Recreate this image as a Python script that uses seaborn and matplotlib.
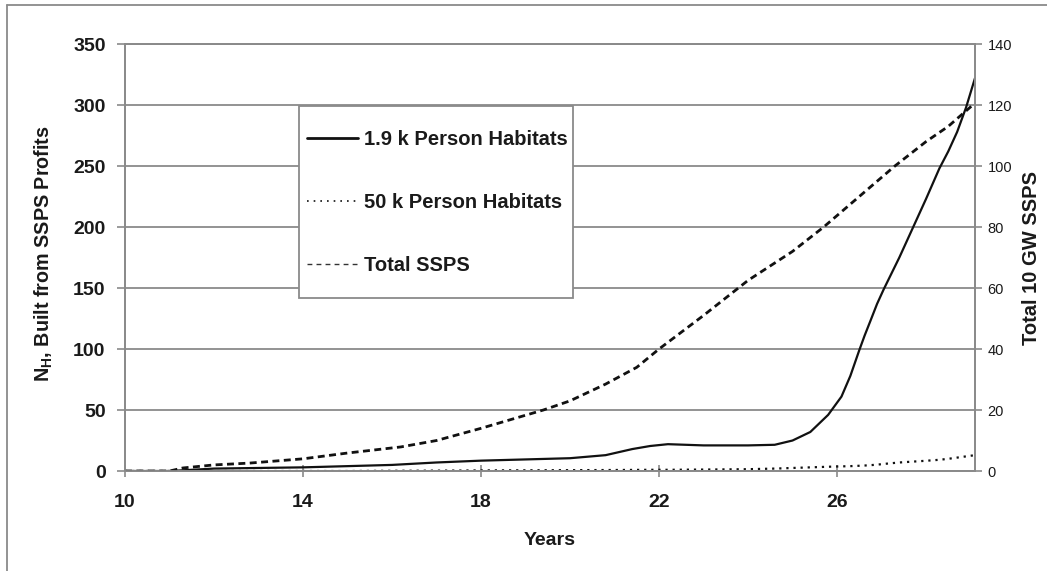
import matplotlib
matplotlib.use('Agg')
from matplotlib import pyplot as plt
from matplotlib.lines import Line2D
from matplotlib.patches import Rectangle
import pandas as pd
import seaborn as sns

# Values
hab_years = [10, 11, 11.5, 12, 13, 14, 15, 16, 17, 18, 19, 20, 20.8, 21.4, 21.8, 22.2,
             22.6, 23, 24, 24.6, 25, 25.4, 25.8, 26.1, 26.3, 26.5, 26.62, 26.75, 26.9,
             27.05, 27.4, 27.7, 28, 28.3, 28.5, 28.7, 28.9, 29.1]
hab_small = [0, 0, 1, 2, 2.5, 3, 4, 5, 7, 8.5, 9.5, 10.5, 13, 18, 20.5, 22,
             21.5, 21, 21, 21.5, 25, 32, 46, 61, 78, 99, 111, 123, 137,
             149, 175, 199, 223, 248, 262, 278, 298, 322]
hab_large = [0, 0, 0, 0, 0, 0, 0, 0.2, 0.3, 0.5, 0.6, 0.7, 0.8, 0.9, 1, 1,
             1.1, 1.2, 1.5, 2, 2.5, 3, 3.5, 3.8, 4, 4.3, 4.5, 4.8, 5.2,
             5.8, 7, 7.7, 8.4, 9.2, 10, 11, 12, 13]
ssps_years = [10, 11, 11.3, 12, 12.8, 14, 15, 16.2, 17, 18, 19.4, 20, 20.8, 21.5, 22,
              23, 24, 25, 25.7, 26.5, 27.3, 28, 28.5, 29.05]
ssps_total = [0, 0, 1, 2, 2.6, 4, 5.9, 7.9, 10, 14, 20, 23, 28.5, 34, 40,
              51, 62.5, 72, 80, 90, 100, 108, 113, 120]

series_labels = ['1.9 k Person Habitats', '50 k Person Habitats', 'Total SSPS']
x_ticks = [10, 14, 18, 22, 26]
left_ticks = [0, 50, 100, 150, 200, 250, 300, 350]
right_ticks = [0, 20, 40, 60, 80, 100, 120, 140]

hab_df = pd.DataFrame({'year': hab_years, 'small': hab_small, 'large': hab_large})
ssps_df = pd.DataFrame({'year': ssps_years, 'total': ssps_total})

sns.set_style('white')
plt.rcParams['font.family'] = ['Liberation Sans', 'DejaVu Sans']
plt.rcParams['mathtext.fontset'] = 'custom'
plt.rcParams['mathtext.rm'] = 'Liberation Sans'
plt.rcParams['mathtext.bf'] = 'Liberation Sans:bold'

text_col = '#1a1a1a'
grid_col = '#8a8a8a'
line_col = '#111111'

fig, ax = plt.subplots(figsize=(10.47, 5.71), dpi=100)
fig.subplots_adjust(left=0.1194, right=0.9312, top=0.9229, bottom=0.1751)
ax2 = ax.twinx()

sns.lineplot(data=hab_df, x='year', y='small', ax=ax, color=line_col, lw=1.6)
sns.lineplot(data=hab_df, x='year', y='large', ax=ax, color=line_col, lw=1.6,
             linestyle=(0, (1, 2.2)))
sns.lineplot(data=ssps_df, x='year', y='total', ax=ax2, color=line_col, lw=2.0,
             linestyle=(0, (2.5, 1.6)))

ax.set_xlim(10, 29.1)
ax.set_ylim(0, 350)
ax2.set_ylim(0, 140)
ax.set_xticks(x_ticks)
ax.set_yticks(left_ticks)
ax2.set_yticks(right_ticks)

ax.set_axisbelow(True)
ax.yaxis.grid(True, color=grid_col, lw=1.3)
ax.xaxis.grid(False)
ax2.grid(False)

for a in (ax, ax2):
    for s in a.spines.values():
        s.set_color(grid_col)
        s.set_linewidth(1.3)

ax.tick_params(axis='y', which='major', direction='out', length=6, width=1.2,
               color=grid_col, left=True, pad=8, labelsize=14, labelcolor=text_col)
ax.tick_params(axis='x', which='major', direction='inout', length=9, width=1.2,
               color=grid_col, bottom=True, pad=12, labelsize=14, labelcolor=text_col)
ax2.tick_params(axis='y', which='major', direction='out', length=5, width=1.2,
                color=grid_col, right=True, pad=4, labelsize=10.5, labelcolor=text_col)
for lab in ax.get_xticklabels() + ax.get_yticklabels():
    lab.set_fontweight('bold')

ax.set_xlabel('Years', fontsize=14, fontweight='bold', color=text_col)
ax.xaxis.set_label_coords(0.5, -0.143)
ax.set_ylabel(r'N$_{\mathbf{H}}$, Built from SSPS Profits', fontsize=14.2,
              fontweight='bold', color=text_col)
ax.yaxis.set_label_coords(-0.082, 0.51)
ax2.set_ylabel('Total 10 GW SSPS', fontsize=14.5, fontweight='bold', color=text_col,
               rotation=90)
ax2.yaxis.set_label_coords(1.055, 0.5)

# legend box
box = Rectangle((299 / 1047, 1 - 298 / 571), 274 / 1047, 192 / 571,
                transform=fig.transFigure, facecolor='white', edgecolor=grid_col,
                lw=1.3, zorder=4)
ax2.add_artist(box)
proxies = [
    Line2D([], [], color=line_col, lw=2.0),
    Line2D([], [], color=line_col, lw=1.2, linestyle=(0, (1, 3))),
    Line2D([], [], color='#333333', lw=1.0, linestyle=(0, (3.5, 3))),
]
leg = ax2.legend(proxies, series_labels, loc='upper left',
                 bbox_to_anchor=(307 / 1047, 1 - 130 / 571),
                 bbox_transform=fig.transFigure, frameon=False, borderpad=0,
                 borderaxespad=0, handlelength=2.55, handletextpad=0.3,
                 labelspacing=2.18, prop={'size': 14.5, 'weight': 'bold'})
for t in leg.get_texts():
    t.set_color(text_col)
leg.set_zorder(5)

# page frame
fig.add_artist(Line2D([7 / 1047, 7 / 1047], [0, 1 - 5 / 571],
                      transform=fig.transFigure, color=grid_col, lw=1.3))
fig.add_artist(Line2D([7 / 1047, 1], [1 - 5 / 571, 1 - 5 / 571],
                      transform=fig.transFigure, color=grid_col, lw=1.3))

fig.savefig('out.png', dpi=100)
